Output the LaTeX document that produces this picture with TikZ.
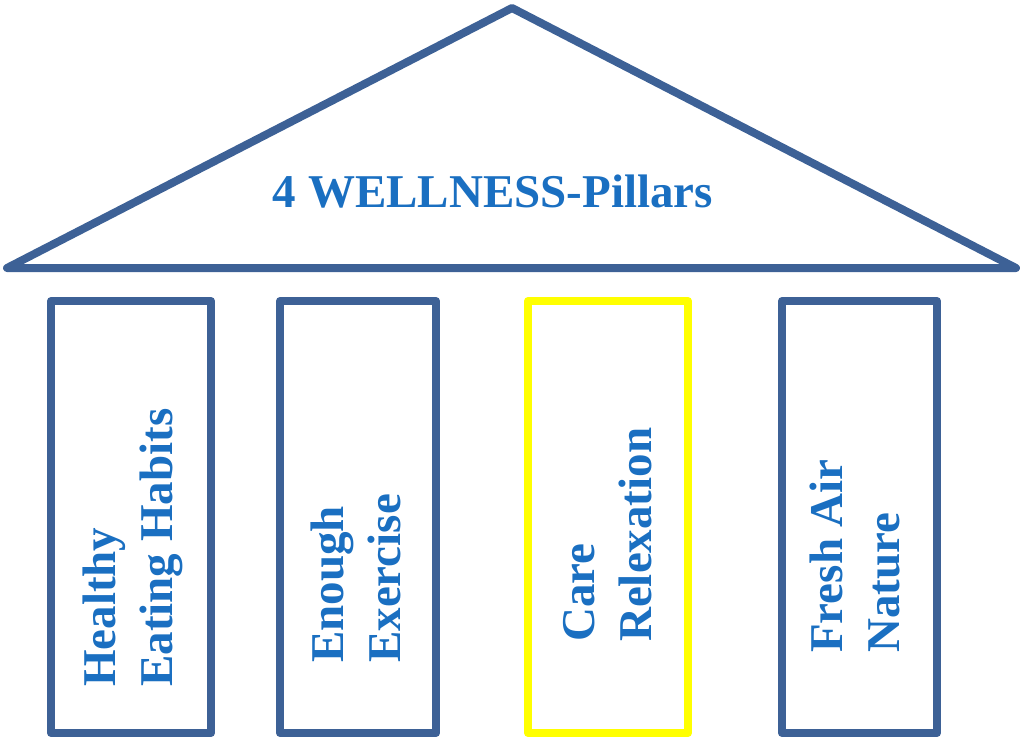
\documentclass[tikz,border=0pt]{standalone}
\usepackage{fontspec}
\setmainfont{Liberation Serif}
\usepackage{xcolor}
\definecolor{roofblue}{HTML}{3D6196}
\definecolor{textblue}{HTML}{1A6FC1}
\definecolor{careyellow}{HTML}{FFFF00}

\begin{document}
\begin{tikzpicture}[x=1pt, y=-1pt,
	frame/.style={draw=roofblue, line width=8pt, line join=round},
	bigtext/.style={text=textblue, font=\fontsize{47}{57}\selectfont\bfseries, inner sep=0pt},
	pillartext/.style={bigtext, align=left, rotate=90, anchor=west}]
	\useasboundingbox (0,0) rectangle (1024,740);
	% roof
	\coordinate (L) at (7,268);
	\coordinate (R) at (1016,268);
	\coordinate (T) at (512,8);
	\draw [frame] (L) -- (T) -- (R) -- cycle;
	\node [bigtext, anchor=base] (title) at (493,207) {4 WELLNESS-Pillars};
	% pillars
	\draw [frame] (51,301) rectangle (211,733);
	\draw [frame] (280,301) rectangle (436,733);
	\draw [frame, draw=careyellow] (528,301) rectangle (688,733);
	\draw [frame] (782,301) rectangle (937,733);
	\node [pillartext] (eat) at (132.5,687) {Healthy\\Eating Habits};
	\node [pillartext] (move) at (355.5,663) {Enough\\Exercise};
	\node [pillartext] (care) at (607.5,642) {Care\\Relexation};
	\node [pillartext] (air) at (854.5,653) {Fresh Air\\Nature};
%	\draw (T) -- (title);
\end{tikzpicture}
\end{document}
